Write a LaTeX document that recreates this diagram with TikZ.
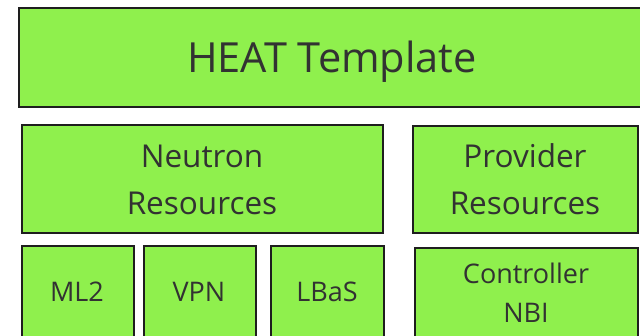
\documentclass[tikz,border=0pt]{standalone}
\usepackage{fontspec}
\setmainfont{Open Sans}
\definecolor{boxgreen}{RGB}{143,240,77}
\definecolor{boxline}{RGB}{30,30,30}
\definecolor{txt}{RGB}{50,50,50}
\begin{document}
\begin{tikzpicture}[x=1pt,y=1pt,
  gbox/.style={draw=boxline,line width=1.8pt,fill=boxgreen,rectangle,inner sep=0pt,anchor=north west},
  lbl/.style={text=txt,inner sep=0pt,anchor=base,align=center},
  big/.style={lbl,font=\fontsize{41.5}{48}\selectfont},
  mid/.style={lbl,font=\fontsize{31.5}{46}\selectfont},
  small/.style={lbl,font=\fontsize{27}{39}\selectfont}]
\useasboundingbox (0,0) rectangle (640,-336);
\clip (0,0) rectangle (640,-336);
\fill[white] (0,0) rectangle (640,-336);
% boxes
\node[gbox,minimum width=660,minimum height=99] (heat) at (18,-7) {};
\node[gbox,minimum width=361,minimum height=108] (neutron) at (21,-124) {};
\node[gbox,minimum width=225,minimum height=107] (provider) at (412,-125) {};
\node[gbox,minimum width=112,minimum height=100] (ml2) at (21,-245) {};
\node[gbox,minimum width=112,minimum height=100] (vpn) at (143,-245) {};
\node[gbox,minimum width=113,minimum height=100] (lbas) at (270,-245) {};
\node[gbox,minimum width=223,minimum height=100] (ctrl) at (414,-247) {};
% labels
\node[big] (heatT) at (332,-73) {HEAT Template};
\node[mid] (neuT1) at (202,-168) {Neutron};
\node[mid] (neuT2) at (202,-215) {Resources};
\node[mid] (proT1) at (525,-168) {Provider};
\node[mid] (proT2) at (525,-215) {Resources};
\node[small] (ml2T) at (77,-302) {ML2};
\node[small] (vpnT) at (199,-302) {VPN};
\node[small] (lbasT) at (327,-302) {LBaS};
\node[small] (ctrlT1) at (526,-284) {Controller};
\node[small] (ctrlT2) at (526,-323) {NBI};
\end{tikzpicture}
\end{document}
